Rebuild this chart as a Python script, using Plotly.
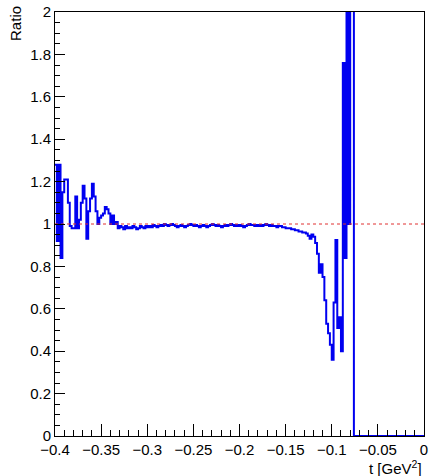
import plotly.graph_objects as go

# Histogram definition (ROOT-style ratio histogram)
T_MIN = -0.4
T_MAX = 0.0
N_BINS = 200

ratio_noisy = [1.28, 0.92, 1.28, 0.84, 1.15, 1.21, 1.21, 1.10, 0.99, 0.98,
               0.98, 1.13, 0.98, 1.02, 1.10, 1.18, 1.12, 0.93, 1.06, 1.12,
               1.19, 1.13, 1.06, 1.00, 1.03, 1.04, 1.05, 1.08, 1.07, 1.05,
               1.00, 1.04, 1.00, 1.01, 0.98, 0.99]
ratio_flat = [0.985, 0.975, 0.99, 0.98, 0.985, 0.98, 0.99, 0.985, 0.975, 0.98,
              0.99, 0.985, 0.98, 0.99, 0.985,
              0.99, 0.985, 0.995, 0.99, 0.985, 0.99, 0.995, 0.99, 1.0, 0.995,
              0.99, 0.995, 1.0, 0.995, 0.99, 0.985, 0.99, 0.995, 0.99, 0.985,
              0.99, 0.995, 1.0, 0.995, 0.99, 0.995, 0.99, 0.985, 0.99, 0.995,
              0.99, 0.985, 0.99, 0.995, 1.0, 0.995, 0.99, 0.995, 0.99, 0.985,
              0.99, 0.995, 0.99, 0.995, 1.0, 0.995, 0.99, 0.995, 0.99, 0.995,
              0.99, 0.985, 0.99, 0.995, 1.0, 0.995, 0.995, 0.99, 0.995, 0.99,
              0.995, 0.99, 0.995, 1.0, 0.995, 0.99, 0.995, 0.99, 0.99, 0.985]
ratio_tail = [0.99, 0.99, 0.985, 0.985, 0.98, 0.98, 0.98, 0.975, 0.975, 0.97,
              0.97, 0.965, 0.965, 0.96, 0.96, 0.955, 0.945, 0.93, 0.95, 0.94,
              0.91, 0.86, 0.77, 0.81, 0.75, 0.64, 0.53, 0.485, 0.43, 0.36,
              0.63, 0.925, 0.51, 0.56, 0.40, 1.76, 0.84, 2.5, 1.0, 2.5, 2.5]
ratio_empty = [0, 0, 0, 0, 0, 0, 0, 0, 0, 0,
               0, 0, 0, 0, 0, 0, 0, 0, 0, 0,
               0, 0, 0, 0, 0, 0, 0, 0, 0, 0,
               0, 0, 0, 0, 0, 0, 0, 0]

ratio = ratio_noisy + ratio_flat + ratio_tail + ratio_empty
ratio = ratio[:N_BINS]

width = (T_MAX - T_MIN) / N_BINS
edges = [T_MIN + i * width for i in range(len(ratio) + 1)]
xs = edges
ys = ratio + [ratio[-1]]

BLUE = "#0000f0"

fig = go.Figure()
fig.add_trace(go.Scatter(
    x=xs, y=ys, mode="lines", line=dict(color=BLUE, width=2, shape="hv"),
    showlegend=False, hoverinfo="skip"))
fig.add_trace(go.Scatter(
    x=[T_MIN, T_MAX], y=[1, 1], mode="lines",
    line=dict(color="#e03030", width=1, dash="3px,3px"),
    showlegend=False, hoverinfo="skip"))

FONT = "Liberation Sans, Arial, Helvetica, sans-serif"

fig.update_layout(
    width=430, height=476,
    margin=dict(l=55, r=2, t=12, b=40),
    paper_bgcolor="white", plot_bgcolor="white",
    font=dict(family=FONT, size=15, color="black"),
    xaxis=dict(
        range=[T_MIN, T_MAX], dtick=0.05, tick0=-0.4,
        ticks="inside", ticklen=12, tickwidth=1, tickcolor="black",
        showline=True, linecolor="black", linewidth=1, mirror=True,
        showgrid=False, zeroline=False, ticklabeloverflow="allow",
        minor=dict(ticks="inside", ticklen=6, dtick=0.01, tick0=-0.4,
                   tickcolor="black", showgrid=False),
        tickfont=dict(family=FONT, size=15),
    ),
    yaxis=dict(
        range=[0, 2], dtick=0.2, tick0=0,
        ticks="inside", ticklen=10, tickwidth=1, tickcolor="black",
        showline=True, linecolor="black", linewidth=1, mirror=True,
        showgrid=False, zeroline=False,
        minor=dict(ticks="inside", ticklen=5, dtick=0.05, tick0=0,
                   tickcolor="black", showgrid=False),
        tickfont=dict(family=FONT, size=15),
    ),
    annotations=[
        dict(text="Ratio", xref="paper", yref="paper",
             x=-0.107, y=1.019, xanchor="center", yanchor="top",
             textangle=-90, showarrow=False, font=dict(family=FONT, size=15)),
        dict(text="t [GeV<sup>2</sup>]", xref="paper", yref="paper",
             x=1.0, y=-0.075, xanchor="right", yanchor="middle",
             showarrow=False, font=dict(family=FONT, size=15)),
    ],
)

fig.write_html("out.html", config={"displayModeBar": False},
               post_script="document.body.style.margin='0';"
                           "document.body.style.overflow='hidden';")
